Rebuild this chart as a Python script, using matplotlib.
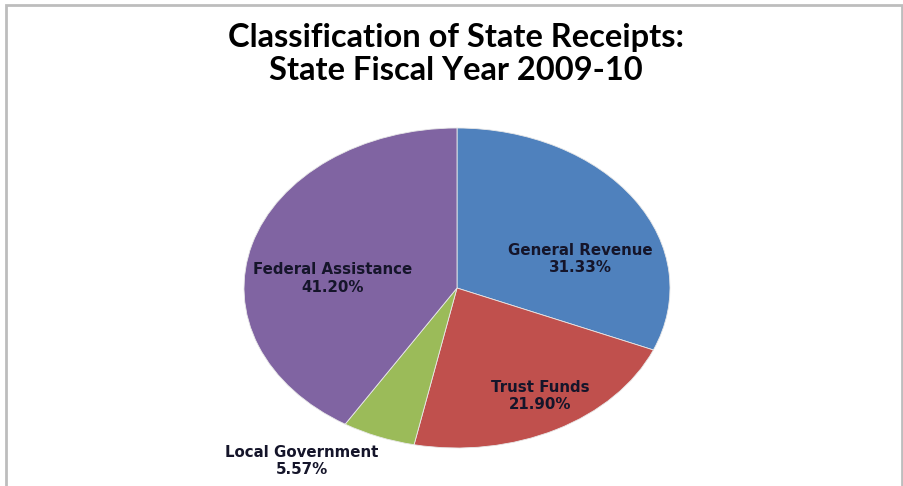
import matplotlib.pyplot as plt
from matplotlib.patches import Rectangle

# data
categories = ['General Revenue', 'Trust Funds', 'Local Government', 'Federal Assistance']
shares = [31.33, 21.90, 5.57, 41.20]
colors = ['#4F81BD', '#C0504D', '#9BBB59', '#8064A2']
# label centres in pie data coords (ellipse radius 1)
label_pos = [(0.58, 0.18), (0.39, -0.675), (-0.73, -1.08), (-0.585, 0.06)]

W, H = 904, 486
fig = plt.figure(figsize=(W / 100, H / 100), dpi=100)
fig.patch.set_facecolor('white')

# outer frame of the chart area
fig.patches.append(Rectangle((6 / W, -0.1), (902 - 6) / W, (H - 5) / H + 0.1,
                             transform=fig.transFigure, fill=False,
                             edgecolor='#bdbdbd', linewidth=2))

# title
fig.text(456 / W, 1 - 37 / H, 'Classification of State Receipts:', ha='center', va='center',
         fontsize=23.5, fontweight='bold', family='Lato')
fig.text(456 / W, 1 - 70 / H, 'State Fiscal Year 2009-10', ha='center', va='center',
         fontsize=23.5, fontweight='bold', family='Lato')

# pie (stretched ellipse like the original)
cx, cy, rx, ry = 457, 288, 213, 160
ax = fig.add_axes([(cx - rx) / W, (H - cy - ry) / H, 2 * rx / W, 2 * ry / H])
ax.pie(shares, colors=colors, startangle=90, counterclock=False, radius=1,
       wedgeprops=dict(linewidth=0.6, edgecolor='#e8e8e8'))
ax.set_aspect('auto')
ax.set_xlim(-1, 1)
ax.set_ylim(-1, 1)
ax.axis('off')

for name, val, (x, y) in zip(categories, shares, label_pos):
    ax.text(x, y, '%s\n%.2f%%' % (name, val), ha='center', va='center',
            fontsize=10.8, fontweight='bold', family='DejaVu Sans', color='#15152a',
            linespacing=1.2, clip_on=False)

plt.savefig('out.png', dpi=100)
